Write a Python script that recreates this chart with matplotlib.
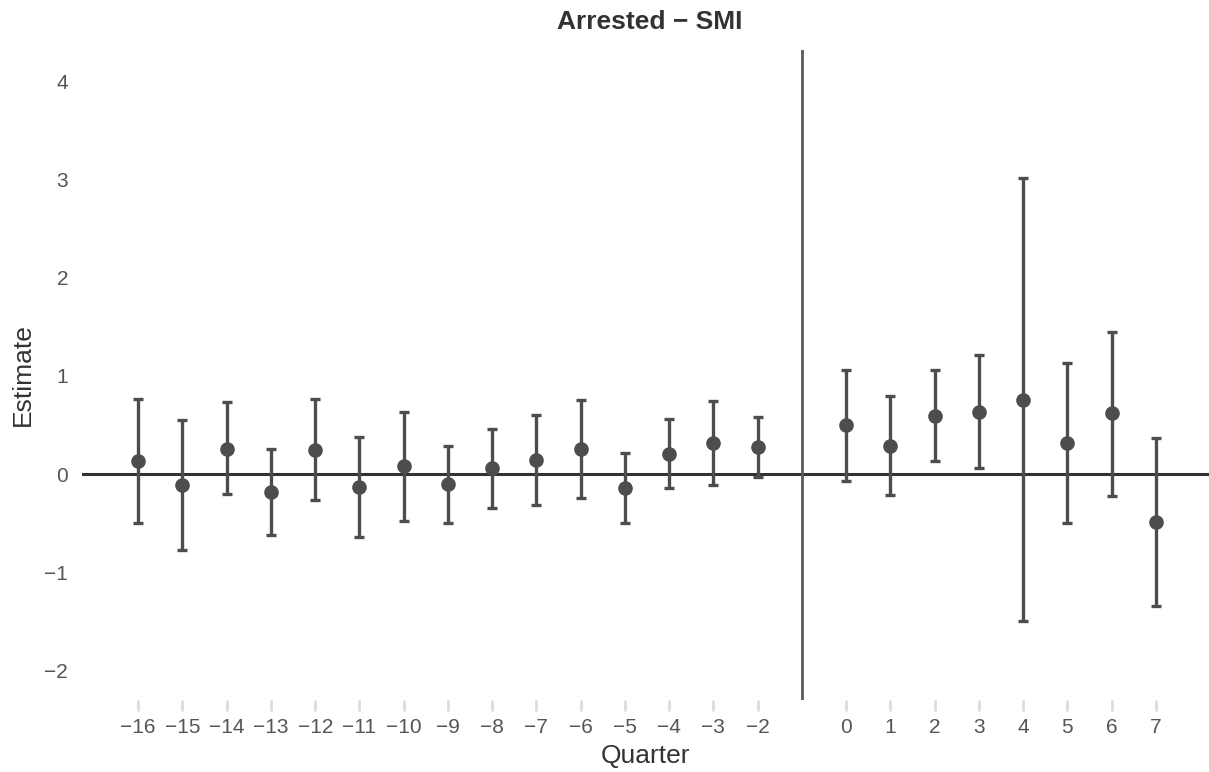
import matplotlib.pyplot as plt
import numpy as np

plt.rcParams['font.family'] = ['Liberation Sans', 'DejaVu Sans']

quarters = [-16, -15, -14, -13, -12, -11, -10, -9, -8, -7, -6, -5, -4, -3, -2,
            0, 1, 2, 3, 4, 5, 6, 7]
estimate = [0.13, -0.11, 0.26, -0.18, 0.25, -0.13, 0.08, -0.10, 0.06, 0.14, 0.26, -0.14,
            0.21, 0.32, 0.28, 0.50, 0.29, 0.59, 0.63, 0.76, 0.32, 0.62, -0.49]
ci_low = [-0.50, -0.77, -0.20, -0.62, -0.26, -0.64, -0.48, -0.50, -0.34, -0.31, -0.24, -0.50,
          -0.14, -0.11, -0.03, -0.07, -0.21, 0.13, 0.06, -1.50, -0.50, -0.22, -1.34]
ci_high = [0.77, 0.55, 0.73, 0.26, 0.77, 0.38, 0.63, 0.29, 0.46, 0.60, 0.76, 0.22,
           0.56, 0.75, 0.58, 1.06, 0.80, 1.06, 1.21, 3.02, 1.13, 1.45, 0.37]
event_line = -1

x = np.array(quarters)
y = np.array(estimate)
err = [y - np.array(ci_low), np.array(ci_high) - y]

fig = plt.figure(figsize=(12.09, 7.72), dpi=100)
ax = fig.add_axes([82/1209, 72/772, 1127/1209, 650/772])

ax.axhline(0, color='#333333', lw=2.2, zorder=1)
ax.axvline(event_line, color='#5a5a5a', lw=2.0, zorder=1)
ax.errorbar(x, y, yerr=err, fmt='o', color='#4d4d4d', ms=9.5, elinewidth=2.4,
            capsize=3.5, capthick=2.4, zorder=3)

ax.set_xlim(-17.27, 8.2)
ax.set_ylim(-2.30, 4.32)
ax.set_xticks(quarters)
ax.set_xticklabels([str(q).replace('-', '\u2212') for q in quarters])
ax.set_yticks([-2, -1, 0, 1, 2, 3, 4])
ax.set_yticklabels(['\u22122', '\u22121', '0', '1', '2', '3', '4'])
for s in ax.spines.values():
    s.set_visible(False)
ax.tick_params(axis='x', length=8, width=2, color='#dddddd', labelcolor='#555555',
               labelsize=15, pad=5)
ax.tick_params(axis='y', length=0, labelcolor='#555555', labelsize=15, pad=10)

ax.set_xlabel('Quarter', fontsize=19, color='#333333', labelpad=5)
ax.set_ylabel('Estimate', fontsize=19, color='#333333', labelpad=7)
fig.text(650/1209, 1 - 22/772, 'Arrested \u2212 SMI', ha='center', va='center',
         fontsize=19, fontweight='bold', color='#333333')

plt.savefig('out.png', dpi=100)
